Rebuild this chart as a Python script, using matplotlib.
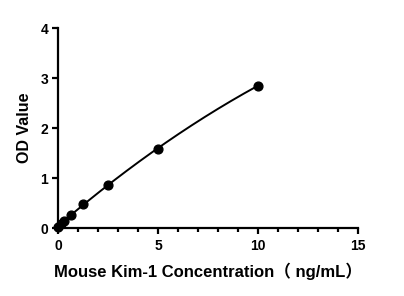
import numpy as np
import matplotlib
matplotlib.use("Agg")
import matplotlib.pyplot as plt
from matplotlib.ticker import MultipleLocator

conc = [0, 0.156, 0.3125, 0.625, 1.25, 2.5, 5, 10]
od = [0.03, 0.08, 0.15, 0.26, 0.48, 0.87, 1.58, 2.85]
xticks = [0, 5, 10, 15]
yticks = [0, 1, 2, 3, 4]

plt.rcParams['font.family'] = ['Liberation Sans', 'Noto Sans CJK SC', 'DejaVu Sans']
plt.rcParams['font.weight'] = 'bold'

fig = plt.figure(figsize=(4.04, 2.96), dpi=100)
ax = fig.add_axes([0.1436, 0.2297, 0.7426, 0.6757])

coef = np.polyfit(conc, od, 2)
xs = np.linspace(0, 10, 200)
ax.plot(xs, np.polyval(coef, xs), color='black', lw=1.4, zorder=2)
ax.scatter(conc, od, s=40, color='black', zorder=3, clip_on=False)

ax.set_xlim(0, 15)
ax.set_ylim(0, 4)
ax.set_xticks(xticks)
ax.set_yticks(yticks)
ax.xaxis.set_minor_locator(MultipleLocator(1))
for s in ['top', 'right']:
    ax.spines[s].set_visible(False)
for s in ['left', 'bottom']:
    ax.spines[s].set_linewidth(1.6)
ax.tick_params(axis='both', which='major', length=4, width=1.6, labelsize=10)
ax.tick_params(axis='x', which='major', pad=4)
ax.tick_params(axis='y', which='major', pad=3)
ax.tick_params(axis='x', which='minor', length=3, width=1.6)
for lab in ax.get_xticklabels() + ax.get_yticklabels():
    lab.set_fontweight('bold')

ax.set_xlabel('Mouse Kim-1 Concentration（ ng/mL）', fontsize=12, fontweight='bold', labelpad=7)
ax.set_ylabel('OD Value', fontsize=11.5, fontweight='bold', labelpad=6)

fig.savefig('out.png', dpi=100)
